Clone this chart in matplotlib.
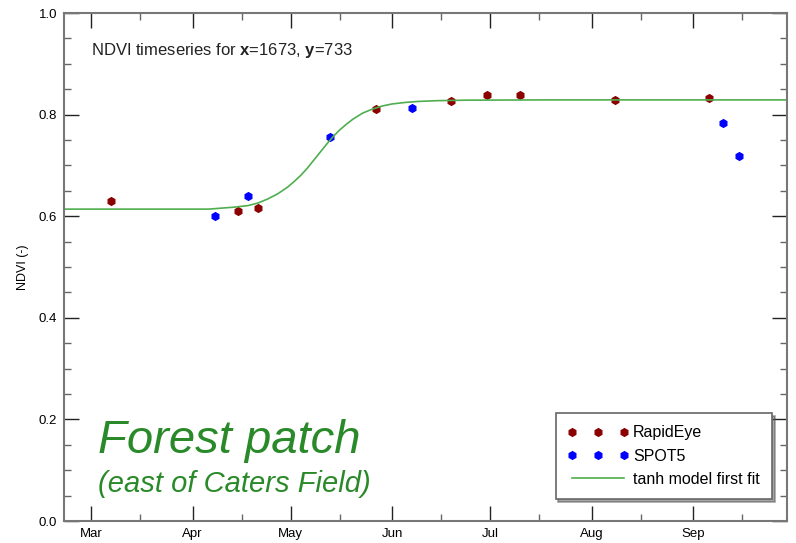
import matplotlib
matplotlib.use("Agg")
import matplotlib.pyplot as plt
import matplotlib.dates as mdates
import pandas as pd

plt.rcParams['font.family'] = ['Liberation Sans', 'DejaVu Sans']
plt.rcParams['mathtext.fontset'] = 'custom'
plt.rcParams['mathtext.rm'] = 'Liberation Sans'
plt.rcParams['mathtext.bf'] = 'Liberation Sans:bold'

YEAR_START = pd.Timestamp('2011-01-01')

# acquisition dates and NDVI values
rapideye_dates = ['2011-03-07', '2011-04-15', '2011-04-21', '2011-05-27', '2011-06-19',
                  '2011-06-30', '2011-07-10', '2011-08-08', '2011-09-06']
rapideye_ndvi = [0.630, 0.610, 0.616, 0.811, 0.827, 0.839, 0.839, 0.829, 0.833]

spot5_dates = ['2011-04-08', '2011-04-18', '2011-05-13', '2011-06-07', '2011-09-10', '2011-09-15']
spot5_ndvi = [0.600, 0.640, 0.756, 0.814, 0.783, 0.718]

# tanh model curve, day of year vs NDVI
model_doy = [52, 96, 100, 104, 108, 111, 114, 117, 120, 122, 124, 126, 128, 130, 132,
             134, 136, 138, 140, 143, 146, 149, 152, 156, 160, 166, 175, 200, 273]
model_ndvi = [0.614, 0.614, 0.616, 0.618, 0.621, 0.626, 0.634, 0.644, 0.657, 0.668,
              0.680, 0.694, 0.710, 0.726, 0.742, 0.757, 0.770, 0.781, 0.791, 0.803,
              0.811, 0.817, 0.821, 0.824, 0.826, 0.8275, 0.8285, 0.829, 0.829]

model_dates = [YEAR_START + pd.Timedelta(days=d - 1) for d in model_doy]

fig = plt.figure(figsize=(7.96, 5.43), dpi=100)
ax = fig.add_axes([0.0804, 0.0405, 0.9083, 0.9355])

ax.plot(pd.to_datetime(rapideye_dates), rapideye_ndvi, linestyle='none', marker='h',
        markersize=5.5, color='#8b0000', label='RapidEye')
ax.plot(pd.to_datetime(spot5_dates), spot5_ndvi, linestyle='none', marker='h',
        markersize=5.5, color='#0000ff', label='SPOT5')
ax.plot(model_dates, model_ndvi, color='#4fae4f', linewidth=1.2, label='tanh model first fit')

ax.set_xlim(YEAR_START + pd.Timedelta(hours=50.7 * 24), YEAR_START + pd.Timedelta(hours=271.7 * 24))
ax.set_ylim(0, 1)

ax.xaxis.set_major_locator(mdates.MonthLocator())
ax.xaxis.set_minor_locator(mdates.MonthLocator(bymonthday=16))
ax.xaxis.set_major_formatter(mdates.DateFormatter('%b'))
ax.yaxis.set_major_locator(plt.MultipleLocator(0.2))
ax.yaxis.set_minor_locator(plt.MultipleLocator(0.05))
ax.yaxis.set_major_formatter(plt.FormatStrFormatter('%.1f'))

ax.tick_params(which='both', direction='in', top=True, right=True, labelsize=9.5)
ax.tick_params(which='major', length=11, width=1, color='#222222', pad=5)
ax.tick_params(which='minor', length=5, width=1, color='#666666')
for s in ax.spines.values():
    s.set_color('#777777')
    s.set_linewidth(1.5)

ax.set_ylabel('NDVI (-)', fontsize=9, labelpad=7)

ax.text(0.038, 0.917, r'NDVI timeseries for $\mathbf{x}$=1673, $\mathbf{y}$=733',
        transform=ax.transAxes, fontsize=12, color='#222222')
ax.text(0.047, 0.133, 'Forest patch', transform=ax.transAxes, fontsize=34,
        style='italic', color='#2a8a2a')
ax.text(0.047, 0.058, '(east of Caters Field)', transform=ax.transAxes, fontsize=21,
        style='italic', color='#2a8a2a')

leg = ax.legend(loc='lower right', bbox_to_anchor=(0.979, 0.0433), borderaxespad=0,
                numpoints=3, handlelength=3.8, fontsize=11.5, fancybox=False, shadow=True,
                framealpha=1, edgecolor='#666666', borderpad=0.75, labelspacing=0.53,
                handletextpad=0.3)
leg.get_frame().set_linewidth(1.2)

fig.savefig('out.png', dpi=100)
